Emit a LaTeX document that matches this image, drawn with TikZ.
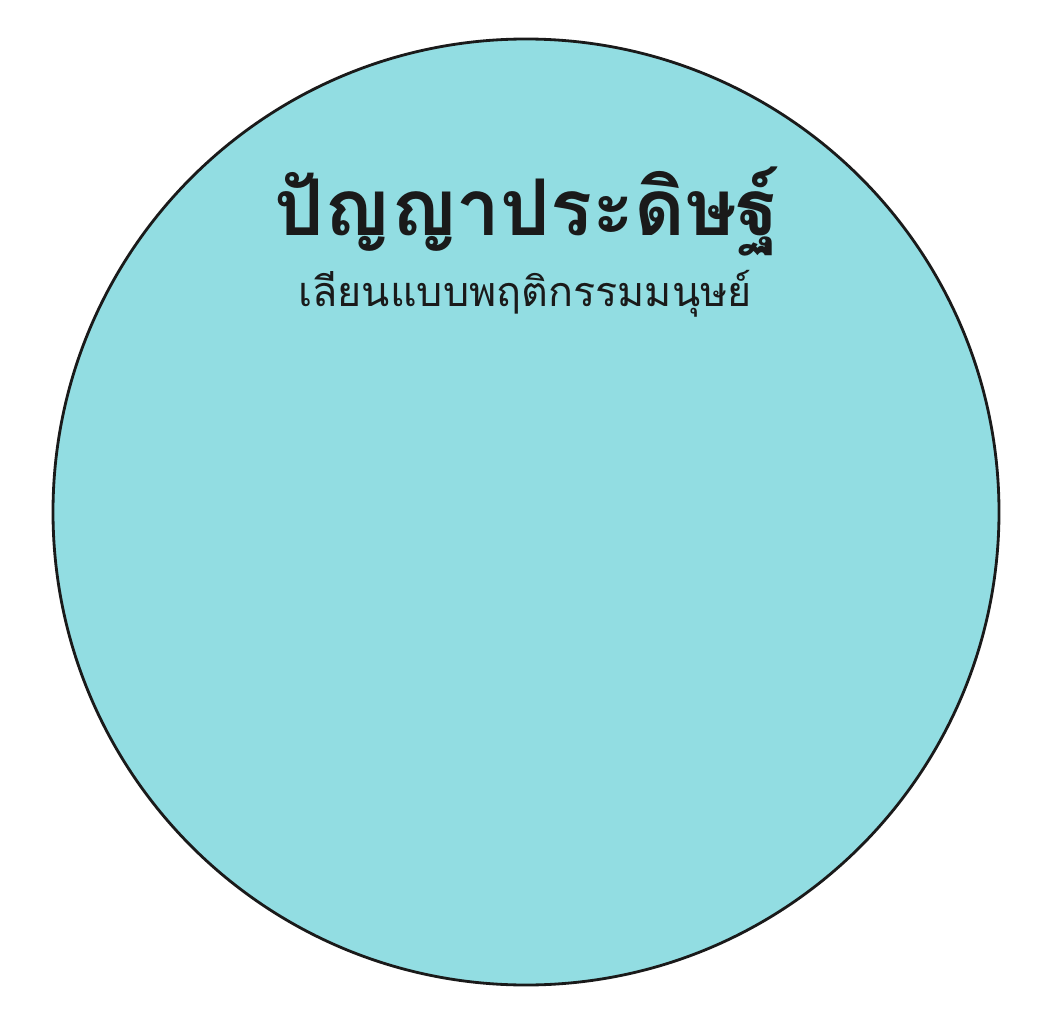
\documentclass[tikz,border=0pt]{standalone}
\usepackage{fontspec}
\newfontfamily\thaifont[Script=Thai]{Loma}
\definecolor{circfill}{HTML}{92DDE2}
\definecolor{ink}{HTML}{1A1A1A}
\begin{document}
\begin{tikzpicture}[x=0.02cm,y=-0.02cm,
  titletext/.style={font=\thaifont\bfseries\fontsize{44.5}{50}\selectfont, text=ink, inner sep=0pt},
  subtext/.style={font=\thaifont\fontsize{23.5}{28}\selectfont, text=ink, inner sep=0pt}]
\useasboundingbox (0,0) rectangle (1052,1024);
\node[circle, draw=ink, line width=1.6pt, fill=circfill, minimum size=946*0.02cm, inner sep=0pt] (c) at (526,512) {};
\node[titletext] (title) at (527,212) {ปัญญาประดิษฐ์};
\node[subtext] (sub) at (525,294) {เลียนแบบพฤติกรรมมนุษย์};
\end{tikzpicture}
\end{document}
